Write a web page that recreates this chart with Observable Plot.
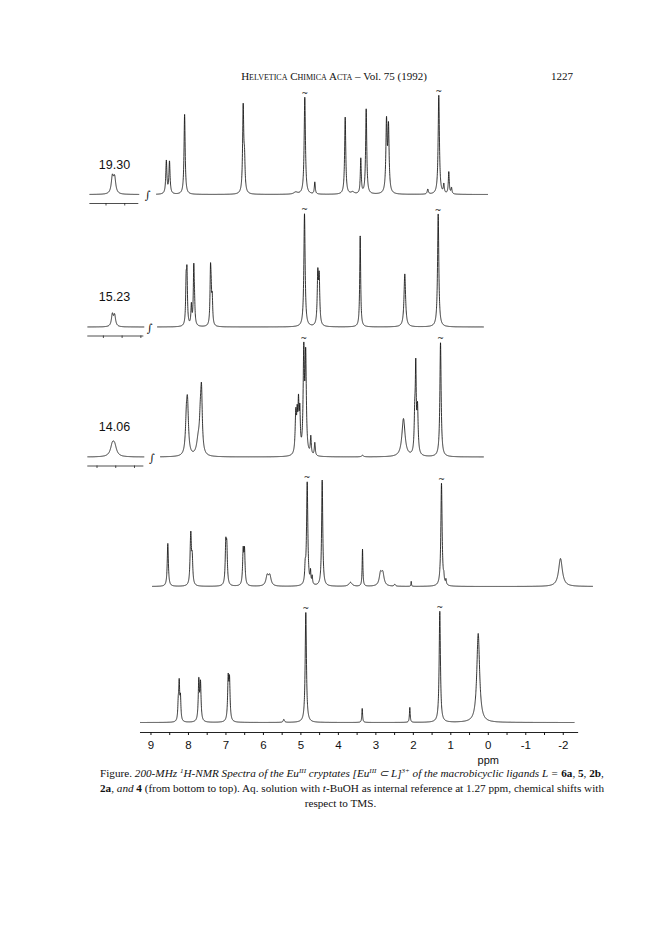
<!DOCTYPE html>
<html><head><meta charset="utf-8">
<script src="https://cdn.jsdelivr.net/npm/d3@7"></script>
<script src="https://cdn.jsdelivr.net/npm/@observablehq/plot@0.6"></script>
<style>
body{margin:0;background:#fff;width:672px;color:#111}
#hdr{position:relative;height:84px;font-family:"Liberation Serif",serif;font-size:11px}
#hdr .t{position:absolute;left:0;width:668px;text-align:center;top:70px;line-height:12px;white-space:nowrap}
#hdr .sc{font-variant:small-caps}
#hdr .p{position:absolute;right:99px;top:70px;line-height:12px}
#chart{height:682px}
#cap{margin-left:100px;width:481px;font-family:"Liberation Serif",serif;font-size:11.2px;line-height:15px}
#cap .j{text-align:justify;text-align-last:justify;white-space:nowrap}
#cap .c{text-align:center}
#cap sup{font-size:7px;line-height:0;vertical-align:4px}
</style></head><body>
<div id="hdr"><div class="t"><span class="sc">Helvetica Chimica Acta</span> – Vol. 75 (1992)</div><div class="p">1227</div></div>
<div id="chart"></div>
<div id="cap">
<div class="j">Figure. <i>200-MHz <sup>1</sup>H-NMR Spectra of the Eu<sup>III</sup> cryptates [Eu<sup>III</sup> ⊂ L]<sup>3+</sup> of the macrobicyclic ligands L =</i> <b>6a</b>, <b>5</b>, <b>2b</b>,</div>
<div class="j"><b>2a</b>, <i>and</i> <b>4</b> (from bottom to top). Aq. solution with <i>t</i>-BuOH as internal reference at 1.27 ppm, chemical shifts with</div>
<div class="c">respect to TMS.</div>
</div>
<script>
// ---- data ----
// ligands from top to bottom
const ligands = ["4", "2a", "2b", "5", "6a"];
// peaks: [ppm, height (trace units), half-width (ppm)]
const peaksL4 = [[8.590, 33, .018], [8.506, 32, .018], [8.103, 80, .018], [6.540, 85, .018], [6.505, 30, .018],
  [5.14, 2, .06], [4.896, 97, .02], [4.629, 12, .015], [3.818, 77, .018], [3.62, 2, .05], [3.402, 35, .015],
  [3.258, 85, .018], [2.716, 70, .02], [2.663, 64, .02], [1.614, 5, .018], [1.321, 99, .02], [1.187, 9, .015],
  [1.054, 22, .015], [0.982, 6, .015]];
const peaksL2a = [[8.062, 40, .015], [8.040, 48, .015], [7.922, 20, .015], [7.858, 56, .015], [7.839, 16, .015],
  [7.412, 50, .015], [7.395, 25, .015], [7.366, 25, .015], [4.904, 113, .02], [4.549, 50, .018], [4.512, 46, .018],
  [3.418, 91, .015], [2.228, 53, .025], [1.337, 113, .02]];
const peaksL2b = [[8.055, 30, .03], [8.025, 45, .03], [7.74, 14, .05], [7.682, 30, .03], [7.652, 55, .025],
  [5.136, 40, .02], [5.099, 32, .016], [5.064, 45, .016], [5.029, 38, .016], [4.923, 100, .02], [4.872, 95, .02],
  [4.736, 18, .015], [4.629, 13, .015], [3.356, 1.5, .03], [2.263, 38, .05], [1.962, 35, .018], [1.935, 80, .015],
  [1.889, 45, .02], [1.275, 114, .02]];
const peaksL5 = [[8.551, 43, .018], [7.948, 18, .018], [7.935, 38, .018], [7.900, 25, .018], [7.004, 38, .018],
  [6.977, 35, .018], [6.540, 33, .018], [6.505, 33, .018], [5.899, 10, .04], [5.830, 10, .04], [4.885, 15, .015],
  [4.832, 103, .02], [4.744, 12, .012], [4.699, 8, .012], [4.432, 106, .018], [3.677, 4, .05], [3.356, 37, .012],
  [2.876, 12, .04], [2.815, 12, .04], [2.495, 2, .02], [2.057, 5, .008], [1.249, 103, .02], [1.187, 6, .012],
  [1.13, 5, .012], [-1.926, 28, .06]];
const peaksL6a = [[8.272, 16, .015], [8.247, 36, .015], [8.214, 22, .015], [7.724, 40, .018], [7.679, 37, .018],
  [6.940, 41, .018], [6.905, 39, .018], [5.456, 3, .02], [4.869, 110, .02], [3.364, 14, .012], [2.094, 15, .012],
  [1.294, 111, .02], [0.269, 89, .045]];
// recorded ppm window of each trace
const rangesPpm = [[8.853, 0.02], [8.826, 0.13], [8.746, 0.13], [8.96, -2.78], [9.28, -2.288]];
// off-scale (truncated, marked with ~) signals
const truncated = [[4.896, 1.321], [4.904, 1.337], [4.923, 1.275], [4.832, 1.249], [4.869, 1.294]];
// low-field insets (ligands 4, 2a, 2b)
const insetLabels = [19.30, 15.23, 14.06];
const insetPeaks = [
  [[19.33, 16.5, .035], [19.27, 15.5, .035]],
  [[15.26, 12, .03], [15.20, 11, .03]],
  [[14.09, 10.5, .06], [14.03, 9.5, .06]]
];
const insetRanges = [[19.93, 18.625], [15.916, 14.42], [14.746, 13.25]];
const xTickLabels = [9, 8, 7, 6, 5, 4, 3, 2, 1, 0, -1, -2];
const xMinorTicks = d3.range(-2, 9.01, 0.5);

// ---- layout ----
const W = 672, H = 682, FB = 648;          // frame bottom at y=648 (1 y unit = 1 px)
const baseV = [538, 405.5, 275.5, 146, 10]; // stacking offsets of the traces
const INSET_AT = 10.0;                      // main-scale ppm where an inset's labelled shift is drawn
const integralAt = [9.085, 9.032, 8.968];
const STEP = 0.002;

const allPeaks = [peaksL4, peaksL2a, peaksL2b, peaksL5, peaksL6a];
function lor(peaks, p) {
  let s = 0;
  for (const [c, h, g] of peaks) { const u = (p - c) / g; s += h / (1 + u * u); }
  return s;
}
function trace(peaks, [a, b], base, key, shift = 0) {
  const lo = Math.min(a, b), hi = Math.max(a, b);
  const xs = d3.range(lo, hi, STEP).concat([hi], peaks.map(d => d[0]).filter(c => c > lo && c < hi));
  xs.sort((m, n) => m - n);
  return xs.map(p => ({key, ppm: p - shift, v: base + lor(peaks, p)}));
}
const mainData = allPeaks.flatMap((pk, i) => trace(pk, rangesPpm[i], baseV[i], ligands[i]));
const insetData = insetPeaks.flatMap((pk, i) => trace(pk, insetRanges[i], baseV[i], "inset" + i, insetLabels[i] - INSET_AT));
const tildeData = truncated.flatMap((arr, i) => arr.map(p => ({ppm: p, v: baseV[i] + lor(allPeaks[i], p)})));
const integralData = integralAt.map((p, i) => ({ppm: p, v: baseV[i]}));
const insetLabelData = insetLabels.map((l, i) => ({ppm: INSET_AT, v: baseV[i] + 30, t: l.toFixed(2)}));
const insetAxisData = insetRanges.map((r, i) => ({x1: r[0] - (insetLabels[i] - INSET_AT), x2: r[1] - (insetLabels[i] - INSET_AT), v: baseV[i] - 9}));
const insetTickData = insetRanges.flatMap((r, i) => {
  const s = insetLabels[i] - INSET_AT;
  return d3.range(Math.ceil(r[1] * 2) / 2, r[0], 0.5).map(p => ({ppm: p - s, y1: baseV[i] - 9, y2: baseV[i] - 11.5}));
});

const chart = Plot.plot({
  width: W, height: H,
  marginLeft: 150.48, marginRight: 109.24, marginTop: 0, marginBottom: H - FB,
  x: {domain: [9, -2]},
  y: {domain: [0, FB], axis: null},
  style: {fontFamily: "'Liberation Sans', Arial, sans-serif", fontSize: "11.5px", color: "#111", background: "#fff", overflow: "visible"},
  marks: [
    Plot.line(mainData, {x: "ppm", y: "v", z: "key", stroke: "#111", strokeWidth: 0.85}),
    Plot.line(insetData, {x: "ppm", y: "v", z: "key", stroke: "#111", strokeWidth: 0.85}),
    Plot.ruleY(insetAxisData, {y: "v", x1: "x1", x2: "x2", stroke: "#222", strokeWidth: 0.8}),
    Plot.ruleX(insetTickData, {x: "ppm", y1: "y1", y2: "y2", stroke: "#222", strokeWidth: 0.8}),
    Plot.text(insetLabelData, {x: "ppm", y: "v", text: "t", fontSize: 12.5, dx: 1}),
    Plot.text(tildeData, {x: "ppm", y: "v", text: () => "~", dy: -4, fontSize: 8, fontFamily: "DejaVu Sans"}),
    Plot.text(integralData, {x: "ppm", y: "v", text: () => "∫", fontSize: 11, fontFamily: "DejaVu Serif", dy: 1}),
    Plot.ruleY([0], {x1: 9.28, x2: -2.41, stroke: "#222", strokeWidth: 1}),
    Plot.axisX({ticks: xMinorTicks, tickSize: 3, tickFormat: () => "", label: null}),
    Plot.axisX({ticks: xTickLabels, tickSize: 0, tickPadding: 8.5, tickFormat: d => String(d), fontSize: 11.5, label: null}),
    Plot.text(["ppm"], {x: 0, frameAnchor: "bottom", dy: 31.5, fontSize: 11, text: d => d})
  ]
});
document.getElementById("chart").appendChild(chart);
</script>
</body></html>
